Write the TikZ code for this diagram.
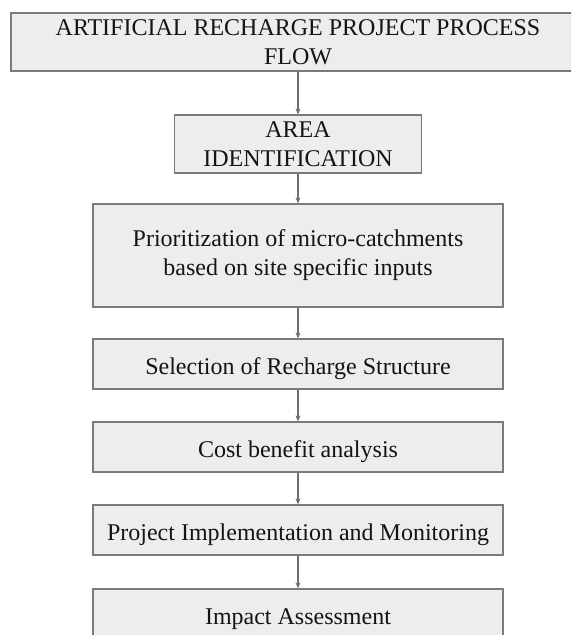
\documentclass[tikz,border=0pt]{standalone}
\usepackage{fontspec}
\setmainfont{Liberation Serif}
\usetikzlibrary{arrows.meta}
\definecolor{cfill}{HTML}{EDEDED}
\definecolor{cline}{HTML}{7A7A7A}
\definecolor{ctext}{HTML}{141414}
\tikzset{
  flowbox/.style={draw=cline,line width=1.3pt,fill=cfill,text=ctext,align=center,
    inner sep=0pt,font=\fontsize{24}{29}\selectfont},
  onebox/.style={flowbox,minimum width=410,minimum height=50,text height=20pt,text depth=0pt},
  flowarrow/.style={draw=cline!90!black,line width=1.1pt,-{Stealth[length=6pt,width=5pt]}}
}

\begin{document}
\begin{tikzpicture}[x=1pt,y=-1pt]
  \useasboundingbox (0,0) rectangle (571,635);
  \clip (0,0) rectangle (571,635);
  % boxes
  \node[flowbox,minimum width=574,minimum height=58] (title) at (298,42)
    {ARTIFICIAL RECHARGE PROJECT PROCESS\\FLOW};
  \node[flowbox,minimum width=247,minimum height=58] (area) at (298,144)
    {AREA\\IDENTIFICATION};
  \node[flowbox,minimum width=410,minimum height=103] (prior) at (298,255.5)
    {Prioritization of micro-catchments\\based on site specific inputs};
  \node[onebox] (select) at (298,364) {Selection of Recharge Structure};
  \node[onebox] (cost) at (298,447) {Cost benefit analysis};
  \node[onebox] (impl) at (298,530) {Project Implementation and Monitoring};
  \node[onebox] (impact) at (298,614) {Impact Assessment};
  % arrows
  \draw[flowarrow] (title) -- (area);
  \draw[flowarrow] (area) -- (prior);
  \draw[flowarrow] (prior) -- (select);
  \draw[flowarrow] (select) -- (cost);
  \draw[flowarrow] (cost) -- (impl);
  \draw[flowarrow] (impl) -- (impact);
\end{tikzpicture}
\end{document}
